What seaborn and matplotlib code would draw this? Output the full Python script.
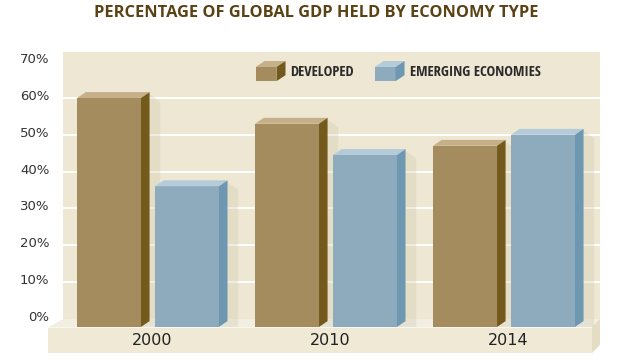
import pandas as pd
import matplotlib
matplotlib.use('Agg')
import matplotlib.pyplot as plt
import seaborn as sns
from matplotlib import font_manager
from matplotlib.patches import Polygon
from matplotlib.legend_handler import HandlerBase
from matplotlib.transforms import ScaledTranslation

years = ['2000', '2010', '2014']
developed = [60, 53, 47]
emerging = [36, 44.5, 50]
series_names = ['DEVELOPED', 'EMERGING ECONOMIES']
y_ticks = [0, 10, 20, 30, 40, 50, 60, 70]

front = {'DEVELOPED': '#a58c5e', 'EMERGING ECONOMIES': '#8eabbe'}
side = {'DEVELOPED': '#74591c', 'EMERGING ECONOMIES': '#6e98b2'}
top = {'DEVELOPED': '#c6b08a', 'EMERGING ECONOMIES': '#b4cbd9'}

df = pd.DataFrame({
    'year': years * 2,
    'share': developed + emerging,
    'type': [series_names[0]] * 3 + [series_names[1]] * 3,
})

sns.set_theme(style='white')

# look for a narrow face for the legend, else fall back
installed = sorted({f.name for f in font_manager.fontManager.ttflist})
narrow_name = None
for cand in ['Liberation Sans Narrow', 'DejaVu Sans Condensed', 'Open Sans Condensed',
             'Roboto Condensed', 'Noto Sans Condensed', 'Arial Narrow']:
    if cand in installed:
        narrow_name = cand
        break
if narrow_name is None:
    for n in installed:
        if 'Narrow' in n or 'Condensed' in n:
            narrow_name = n
            break
if narrow_name is None:
    narrow_name = 'Open Sans'
    leg_size = 9.2
else:
    leg_size = 10.5

fig = plt.figure(figsize=(6.4, 3.6), dpi=100)
ax = fig.add_axes([0.0989, 0.0917, 0.8386, 0.7647])
ax.set_facecolor('#ede7d3')

sns.barplot(data=df, x='year', y='share', hue='type', palette=front,
            width=0.876, gap=0.18, saturation=1, legend=False, ax=ax,
            linewidth=0, zorder=3)

ymin, ymax = -2.3, 72.6
ax.set_ylim(ymin, ymax)
ax.set_xlim(-0.476, 2.539)

# 3d faces on each bar
dx, dy = 0.048, 1.6
for i, p in enumerate(ax.patches):
    name = series_names[i // 3]
    x0 = p.get_x()
    x1 = x0 + p.get_width()
    h = p.get_height()
    p.set_y(ymin)
    p.set_height(h - ymin)
    ax.add_patch(Polygon([(x1 + 0.01, ymin), (x1 + dx + 0.06, ymin), (x1 + dx + 0.06, h - 1),
                          (x1 + dx, h + dy - 0.5), (x1, h)],
                         closed=True, color='#cfc6aa', alpha=0.3, lw=0, zorder=2))
    ax.add_patch(Polygon([(x0, h), (x0 + dx, h + dy), (x1 + dx, h + dy), (x1, h)],
                         closed=True, color=top[name], lw=0, zorder=3))
    ax.add_patch(Polygon([(x1, ymin), (x1 + dx, ymin + dy), (x1 + dx, h + dy), (x1, h)],
                         closed=True, color=side[name], lw=0, zorder=3))

# grid
ax.set_yticks(y_ticks)
ax.set_yticklabels([f'{t}%' for t in y_ticks])
for t in y_ticks[1:-1]:
    ax.axhline(t, color='white', lw=1.4, zorder=1)

ax.tick_params(axis='y', length=0, pad=10, labelsize=9.5, labelcolor='#333333')
ax.tick_params(axis='x', length=0, pad=4.5, labelsize=11.5, labelcolor='#222222')
ax.xaxis.set_zorder(5)
ax.yaxis.set_zorder(5)
for lab in ax.get_xticklabels():
    lab.set_transform(lab.get_transform() + ScaledTranslation(0.04, 0, fig.dpi_scale_trans))
for lab in ax.get_yticklabels():
    lab.set_transform(lab.get_transform() + ScaledTranslation(0, 0.03, fig.dpi_scale_trans))
ax.set_xlabel('')
ax.set_ylabel('')
for s in ax.spines.values():
    s.set_visible(False)

# base slab under the bars
W, H = 640.0, 360.0
def fc(px, py):
    return (px / W, 1 - py / H)

ax.add_patch(Polygon([fc(48, 327.5), fc(63, 319), fc(600, 319), fc(592, 327.5)], closed=True,
                     transform=fig.transFigure, color='#f2eee2', lw=0, zorder=1.5, clip_on=False))
ax.add_patch(Polygon([fc(48, 327.5), fc(592, 327.5), fc(592, 353), fc(48, 353)], closed=True,
                     transform=fig.transFigure, color='#efe9d5', lw=0, zorder=1.5, clip_on=False))
ax.add_patch(Polygon([fc(592, 327.5), fc(600, 319), fc(600, 345), fc(592, 353)], closed=True,
                     transform=fig.transFigure, color='#e4ddc4', lw=0, zorder=1.5, clip_on=False))


class CubeHandler(HandlerBase):
    def create_artists(self, legend, orig_handle, xdescent, ydescent, width, height, fontsize, trans):
        name = orig_handle
        d, e = 6.5, 4.3
        w = width - d
        h = 10.2
        y0 = -ydescent + height / 2 - (h + e) / 2
        return [
            Polygon([(0, y0), (w, y0), (w, y0 + h), (0, y0 + h)], color=front[name], lw=0, transform=trans),
            Polygon([(0, y0 + h), (d, y0 + h + e), (w + d, y0 + h + e), (w, y0 + h)], color=top[name], lw=0, transform=trans),
            Polygon([(w, y0), (w + d, y0 + e), (w + d, y0 + h + e), (w, y0 + h)], color=side[name], lw=0, transform=trans),
        ]


leg = ax.legend(series_names, series_names, handler_map={str: CubeHandler()},
                loc='upper left', bbox_to_anchor=(0.342, 0.985), ncol=2, frameon=False,
                handlelength=2.05, handleheight=1.0, handletextpad=0.35, columnspacing=1.4,
                borderaxespad=0.2,
                prop={'family': [narrow_name, 'DejaVu Sans'], 'weight': 'bold', 'size': leg_size})
for t in leg.get_texts():
    t.set_color('#2a2a2a')

fig.text(0.494, 0.965, 'PERCENTAGE OF GLOBAL GDP HELD BY ECONOMY TYPE', ha='center', va='center',
         fontsize=11.8, fontweight='bold', color='#5a4214', family=['Open Sans', 'DejaVu Sans'])

fig.savefig('out.png', dpi=100, facecolor='white')
